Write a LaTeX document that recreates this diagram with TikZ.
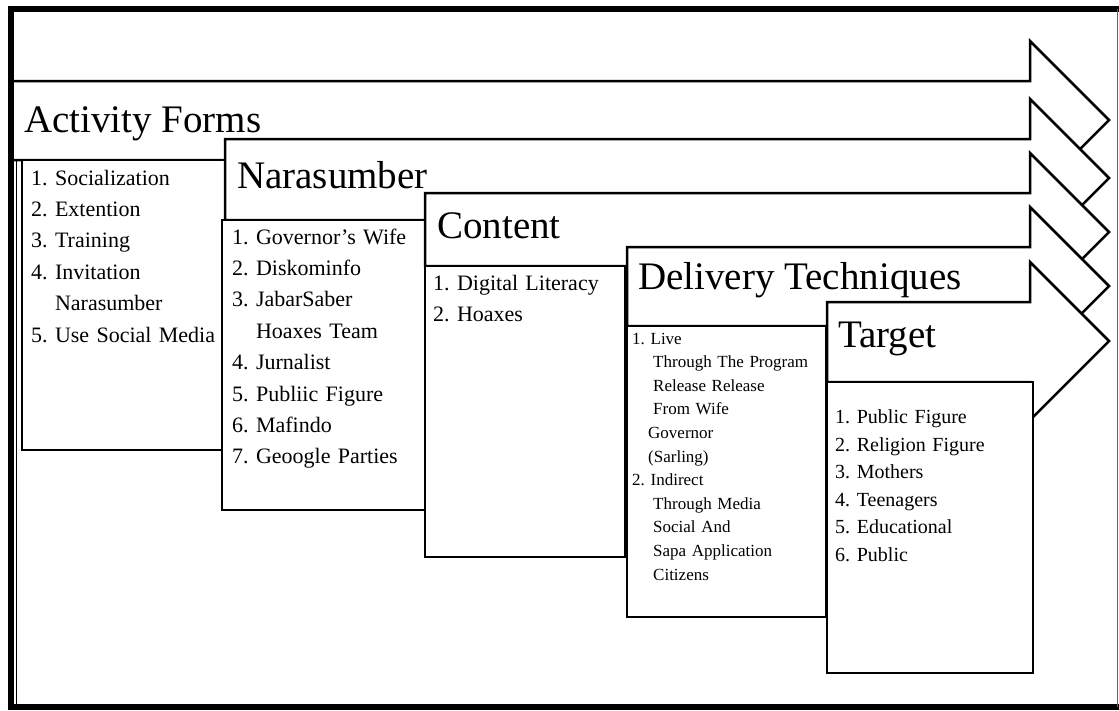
\documentclass[tikz,border=0pt]{standalone}
\usepackage{fontspec}
\setmainfont{Liberation Serif}
\frenchspacing
\newcommand{\procarrow}[3]{%
  \filldraw[arrowshape] (#1,#2) -- (1030,#2) -- (1030,#2-40) -- (1109,#2+39) -- (1030,#2+118) -- (1030,#3) -- (#1,#3) -- cycle;}
\begin{document}
\begin{tikzpicture}[x=1pt,y=-1pt,
  arrowshape/.style={draw=black, fill=white, line width=2.5pt, line join=miter},
  listbox/.style={draw=black, fill=white, line width=2.8pt},
  title/.style={anchor=base west, inner sep=0pt, font=\fontsize{39}{44}\selectfont},
  biglist/.style={anchor=base west, inner sep=0pt, align=left, text width=195pt, font=\fontsize{22}{31.4}\selectfont},
  dellist/.style={anchor=base west, inner sep=0pt, align=left, text width=190pt, font=\fontsize{17}{23.6}\selectfont},
  tarlist/.style={anchor=base west, inner sep=0pt, align=left, text width=190pt, font=\fontsize{20}{27.6}\selectfont}]
\useasboundingbox (0,0) rectangle (1119,710);
\fill[white] (0,0) rectangle (1119,710);

% thin inner left line
\draw[line width=1pt] (16,160) -- (16,707);

% Activity Forms
\procarrow{11}{81}{160}
\node[title] (t1) at (24,132) {Activity Forms};
\draw[listbox] (22,160) rectangle (225,450);
\node[biglist] (l1) at (31,185) {1. Socialization\\2. Extention\\3. Training\\4. Invitation\\\phantom{4. }Narasumber\\5. Use Social Media};

% Narasumber
\procarrow{225}{139}{220}
\node[title] (t2) at (237,188) {Narasumber};
\draw[listbox] (222,220) rectangle (425,510);
\node[biglist] (l2) at (232,244) {1. Governor's Wife\\2. Diskominfo\\3. JabarSaber\\\phantom{3. }Hoaxes Team\\4. Jurnalist\\5. Publiic Figure\\6. Mafindo\\7. Geoogle Parties};

% Content
\procarrow{425}{193}{266}
\node[title] (t3) at (437,238) {Content};
\draw[listbox] (425,266) rectangle (625,557);
\node[biglist] (l3) at (433,290) {1. Digital Literacy\\2. Hoaxes};

% Delivery Techniques
\procarrow{627}{247}{326}
\node[title] (t4) at (638,289) {Delivery Techniques};
\draw[listbox] (627,326) rectangle (826,617);
\node[dellist] (l4) at (632,344) {1. Live\\\hspace*{21pt}Through The Program\\\hspace*{21pt}Release Release\\\hspace*{21pt}From Wife\\\hspace*{16pt}Governor\\\hspace*{16pt}(Sarling)\\2. Indirect\\\hspace*{21pt}Through Media\\\hspace*{21pt}Social And\\\hspace*{21pt}Sapa Application\\\hspace*{21pt}Citizens};

% Target
\procarrow{827}{302}{382}
\node[title] (t5) at (838,347) {Target};
\draw[listbox] (827,382) rectangle (1033,673);
\node[tarlist] (l5) at (835,423.5) {1. Public Figure\\2. Religion Figure\\3. Mothers\\4. Teenagers\\5. Educational\\6. Public};

% outer frame
\draw[line width=6.5pt] (1119,9) -- (11,9) -- (11,707) -- (1119,707);
\draw[line width=1pt, black!60] (1117,9) -- (1117,707);
\end{tikzpicture}
\end{document}
